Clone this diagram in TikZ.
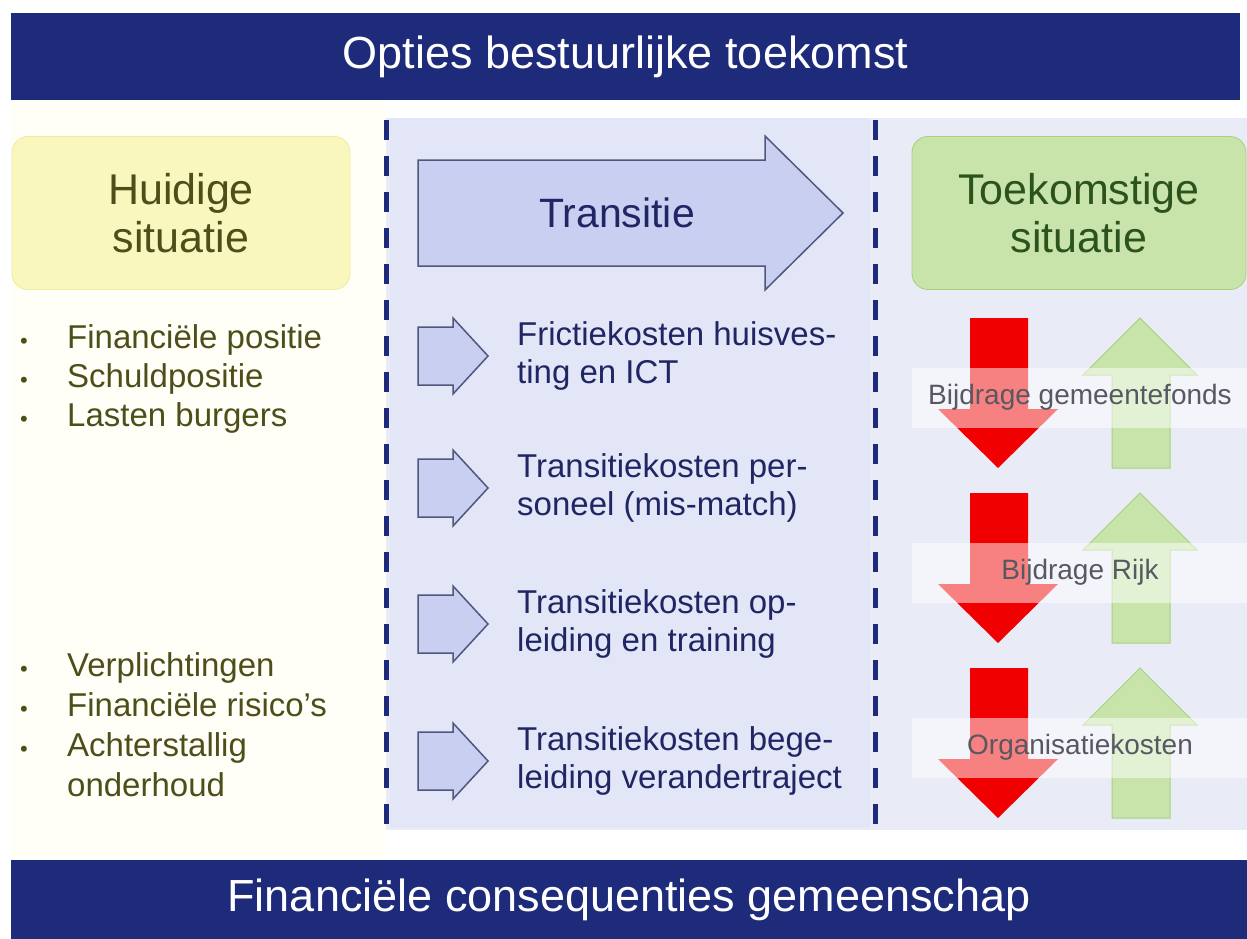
\documentclass[tikz,border=0pt]{standalone}
\usepackage{fontspec}
\setmainfont{Liberation Sans}
\usepackage{tikz}
\usetikzlibrary{positioning}
\definecolor{obnavy}{RGB}{30,43,122}
\definecolor{obtextnavy}{RGB}{32,38,100}
\definecolor{oblavender}{RGB}{227,230,246}
\definecolor{oblightlav}{RGB}{233,236,247}
\definecolor{obcream}{RGB}{255,255,247}
\definecolor{obyellow}{RGB}{250,247,190}
\definecolor{obyellowline}{RGB}{238,234,160}
\definecolor{obolive}{RGB}{78,78,26}
\definecolor{obgreen}{RGB}{200,228,170}
\definecolor{obgreenline}{RGB}{165,208,125}
\definecolor{obdarkgreen}{RGB}{44,82,30}
\definecolor{obarrow}{RGB}{200,207,241}
\definecolor{obarrowline}{RGB}{80,86,125}
\definecolor{obred}{RGB}{240,0,0}
\definecolor{obgrey}{RGB}{88,88,98}
\tikzstyle{band} = [rectangle, fill=obnavy, text=white, font=\fontsize{45}{54}\selectfont]
\tikzstyle{situation} = [rectangle, rounded corners=16pt, align=center, minimum height=153pt, thick, font=\fontsize{43}{48}\selectfont]
\tikzstyle{bullettext} = [anchor=base west, inner sep=0pt, text=obolive, font=\fontsize{33}{39}\selectfont]
\tikzstyle{bulletdot} = [anchor=base, inner sep=0pt, text=obolive, font=\fontsize{22}{26}\selectfont]
\tikzstyle{costtext} = [anchor=west, align=left, inner sep=0pt, text=obtextnavy, font=\fontsize{33}{38}\selectfont]
\tikzstyle{blockarrow} = [fill=obarrow, draw=obarrowline, line width=1.5pt, line join=miter]
\tikzstyle{divider} = [obnavy, line width=5pt, dash pattern=on 20pt off 16pt]
\tikzstyle{overlay} = [fill=white, fill opacity=0.5, draw=none]

\begin{document}
\begin{tikzpicture}[x=1pt, y=-1pt]
\useasboundingbox (0,0) rectangle (1247,939);
% Backgrounds
\fill[obcream] (11,100) rectangle (386,858);
\fill[oblightlav] (386,118) rectangle (1247,830);
\fill[oblavender] (390,118) rectangle (870,828);
\draw[divider] (386,120) -- (386,830);
\draw[divider] (875,120) -- (875,830);

% Bands
\node[band, minimum width=1229pt, minimum height=87pt] (top) at (625.5,56.5) {Opties bestuurlijke toekomst};
\node[band, minimum width=1236pt, minimum height=79pt] (bottom) at (629,899.5) {Financiële consequenties gemeenschap};

% Situations
\node[situation, fill=obyellow, draw=obyellowline, minimum width=338pt, text=obolive] (now) at (181,213) {Huidige\\situatie};
\node[situation, fill=obgreen, draw=obgreenline, minimum width=334pt, text=obdarkgreen] (future) at (1079,213) {Toekomstige\\situatie};

% Left column
\foreach \txt/\y [count=\i] in {Financiële positie/348, Schuldpositie/387, Lasten burgers/426, Verplichtingen/676, Financiële risico's/716, Achterstallig/756} {
  \node[bulletdot] (dot\i) at (24,\y) {•};
  \node[bullettext] (item\i) at (67,\y) {\txt};
}
\node[bullettext] (item7) at (67,796) {onderhoud};

% Transition
\draw[blockarrow] (418,160) -- (765,160) -- (765,136) -- (843,213) -- (765,290) -- (765,266) -- (418,266) -- cycle;
\node[text=obtextnavy, font=\fontsize{41}{48}\selectfont] (trans) at (617,213) {Transitie};
\foreach \c/\txt [count=\i] in {356/{Frictiekosten huisves-\\ting en ICT}, 488/{Transitiekosten per-\\soneel (mis-match)}, 624/{Transitiekosten op-\\leiding en training}, 761/{Transitiekosten bege-\\leiding verandertraject}} {
  \draw[blockarrow] (418,\c-29) -- (453,\c-29) -- (453,\c-38) -- (488,\c) -- (453,\c+38) -- (453,\c+29) -- (418,\c+29) -- cycle;
  \node[costtext] (cost\i) at (517,\c) {\txt};
}

% Future
\foreach \t/\lbl [count=\i] in {318/Bijdrage gemeentefonds, 493/Bijdrage Rijk, 668/Organisatiekosten} {
  \fill[obred] (970,\t) -- (1028,\t) -- (1028,\t+91) -- (1058,\t+91) -- (998,\t+150) -- (938,\t+91) -- (970,\t+91) -- cycle;
  \draw[fill=obgreen, draw=obgreenline, line width=1pt] (1140,\t) -- (1197,\t+57) -- (1170,\t+57) -- (1170,\t+150) -- (1112,\t+150) -- (1112,\t+57) -- (1083,\t+57) -- cycle;
  \fill[overlay] (912,\t+50) rectangle (1247,\t+110);
  \node[text=obgrey, font=\fontsize{28}{34}\selectfont] (effect\i) at (1080,\t+79) {\lbl};
}
\end{tikzpicture}
\end{document}
